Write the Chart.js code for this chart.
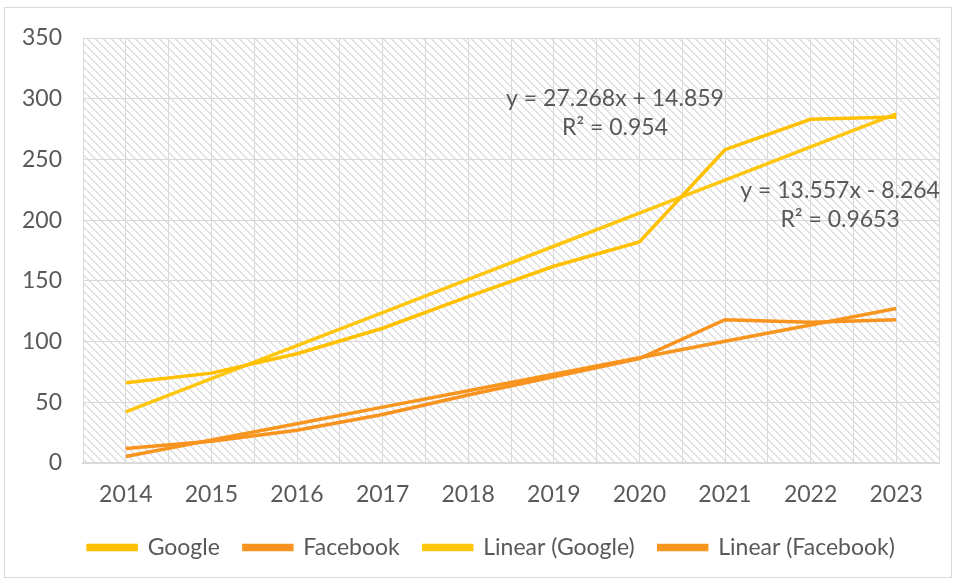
<!DOCTYPE html>
<html lang="en">
  <head>
    <meta charset="UTF-8" />
    <title>Google vs Facebook</title>
    <script src="https://cdn.jsdelivr.net/npm/chart.js"></script>
    <style>
      html, body { margin: 0; padding: 0; background: #fff; }
      #frame { position: absolute; left: 4px; top: 7px; width: 946px; height: 569px; border: 1px solid #d9d9d9; }
      #wrap { position: absolute; left: 0; top: 0; width: 957px; height: 581px; }
    </style>
  </head>
  <body>
    <div id="frame"></div>
    <div id="wrap"><canvas id="myChart"></canvas></div>

    <script>
      const years = ["2014", "2015", "2016", "2017", "2018", "2019", "2020", "2021", "2022", "2023"];
      const google = [66, 74, 90, 111, 137, 162, 182, 258, 283, 285];
      const facebook = [12, 18, 27, 40, 56, 71, 86, 118, 116, 118];
      // trendline values (matches the equations shown)
      const linearGoogle = [42.1, 69.4, 96.7, 123.9, 151.2, 178.5, 205.7, 233.0, 260.3, 287.5];
      const linearFacebook = [5.3, 18.9, 32.4, 46.0, 59.5, 73.1, 86.6, 100.2, 113.7, 127.3];
      const yTicks = [0, 50, 100, 150, 200, 250, 300, 350];

      const textColor = "#595959";
      const gridColor = "#d9d9d9";
      const fontFamily = "Lato, 'Open Sans', sans-serif";
      const fontSize = 23;

      // diagonal hatch behind the plot
      const hatchPlugin = {
        id: "hatch",
        afterLayout(chart) {
          // legend sits a bit right of centre in the original
          chart.legend.left += 22;
          chart.legend.right += 22;
        },
        beforeDraw(chart) {
          const tile = document.createElement("canvas");
          tile.width = 8;
          tile.height = 8;
          const t = tile.getContext("2d");
          t.fillStyle = "#e0e0e0";
          for (let i = 0; i < 8; i++) {
            t.fillRect(i, i, 1, 1);
            t.fillRect((i + 1) % 8, i, 1, 1);
          }
          const { ctx, chartArea: a } = chart;
          ctx.save();
          ctx.fillStyle = ctx.createPattern(tile, "repeat");
          ctx.fillRect(a.left, a.top, a.right - a.left, a.bottom - a.top);
          ctx.restore();
        },
      };

      // trendline equation labels
      const trendLabels = [
        { x: 5.715, y: 300.5, lines: ["y = 27.268x + 14.859", "R² = 0.954"] },
        { x: 8.345, y: 224.5, lines: ["y = 13.557x - 8.264", "R² = 0.9653"] },
      ];
      const trendPlugin = {
        id: "trendLabels",
        afterDatasetsDraw(chart) {
          const { ctx, scales } = chart;
          ctx.save();
          ctx.font = fontSize + "px " + fontFamily;
          ctx.fillStyle = textColor;
          ctx.textAlign = "center";
          ctx.textBaseline = "middle";
          trendLabels.forEach((l) => {
            const px = scales.x.getPixelForValue(l.x);
            const py = scales.y.getPixelForValue(l.y);
            l.lines.forEach((s, i) => ctx.fillText(s, px, py + i * 29));
          });
          ctx.restore();
        },
      };

      const ctx = document.getElementById("myChart").getContext("2d");
      new Chart(ctx, {
        type: "line",
        data: {
          labels: years,
          datasets: [
            { label: "Google", data: google, borderColor: "#ffc000", backgroundColor: "#ffc000" },
            { label: "Facebook", data: facebook, borderColor: "#f7931e", backgroundColor: "#f7931e" },
            { label: "Linear (Google)", data: linearGoogle, borderColor: "#ffc60f", backgroundColor: "#ffc60f" },
            { label: "Linear (Facebook)", data: linearFacebook, borderColor: "#f7961f", backgroundColor: "#f7961f" },
          ],
        },
        options: {
          responsive: true,
          maintainAspectRatio: false,
          animation: false,
          elements: {
            line: { borderWidth: 3.5, tension: 0 },
            point: { radius: 0 },
          },
          layout: { padding: { left: 0, right: 18, top: 38, bottom: 12 } },
          scales: {
            x: {
              type: "category",
              offset: true,
              grid: { display: false },
              border: { color: gridColor, width: 2 },
              ticks: { color: textColor, font: { family: fontFamily, size: fontSize }, padding: 10 },
              afterFit: (s) => { s.height = 49; },
            },
            x2: {
              type: "linear",
              position: "top",
              min: 0,
              max: 20,
              grid: { color: gridColor, drawTicks: false },
              border: { color: gridColor },
              ticks: { display: false, stepSize: 1 },
            },
            y: {
              min: 0,
              max: 350,
              afterBuildTicks: (s) => { s.ticks = yTicks.map((v) => ({ value: v })); },
              afterFit: (s) => { s.width = 83; },
              grid: { color: gridColor, drawTicks: false },
              border: { color: gridColor },
              ticks: { color: textColor, font: { family: fontFamily, size: fontSize }, padding: 21 },
            },
          },
          plugins: {
            tooltip: { enabled: false },
            legend: {
              position: "bottom",
              labels: {
                color: textColor,
                font: { family: fontFamily, size: fontSize },
                boxWidth: 48,
                boxHeight: 4,
                padding: 24,
              },
            },
          },
        },
        plugins: [hatchPlugin, trendPlugin],
      });
    </script>
  </body>
</html>
